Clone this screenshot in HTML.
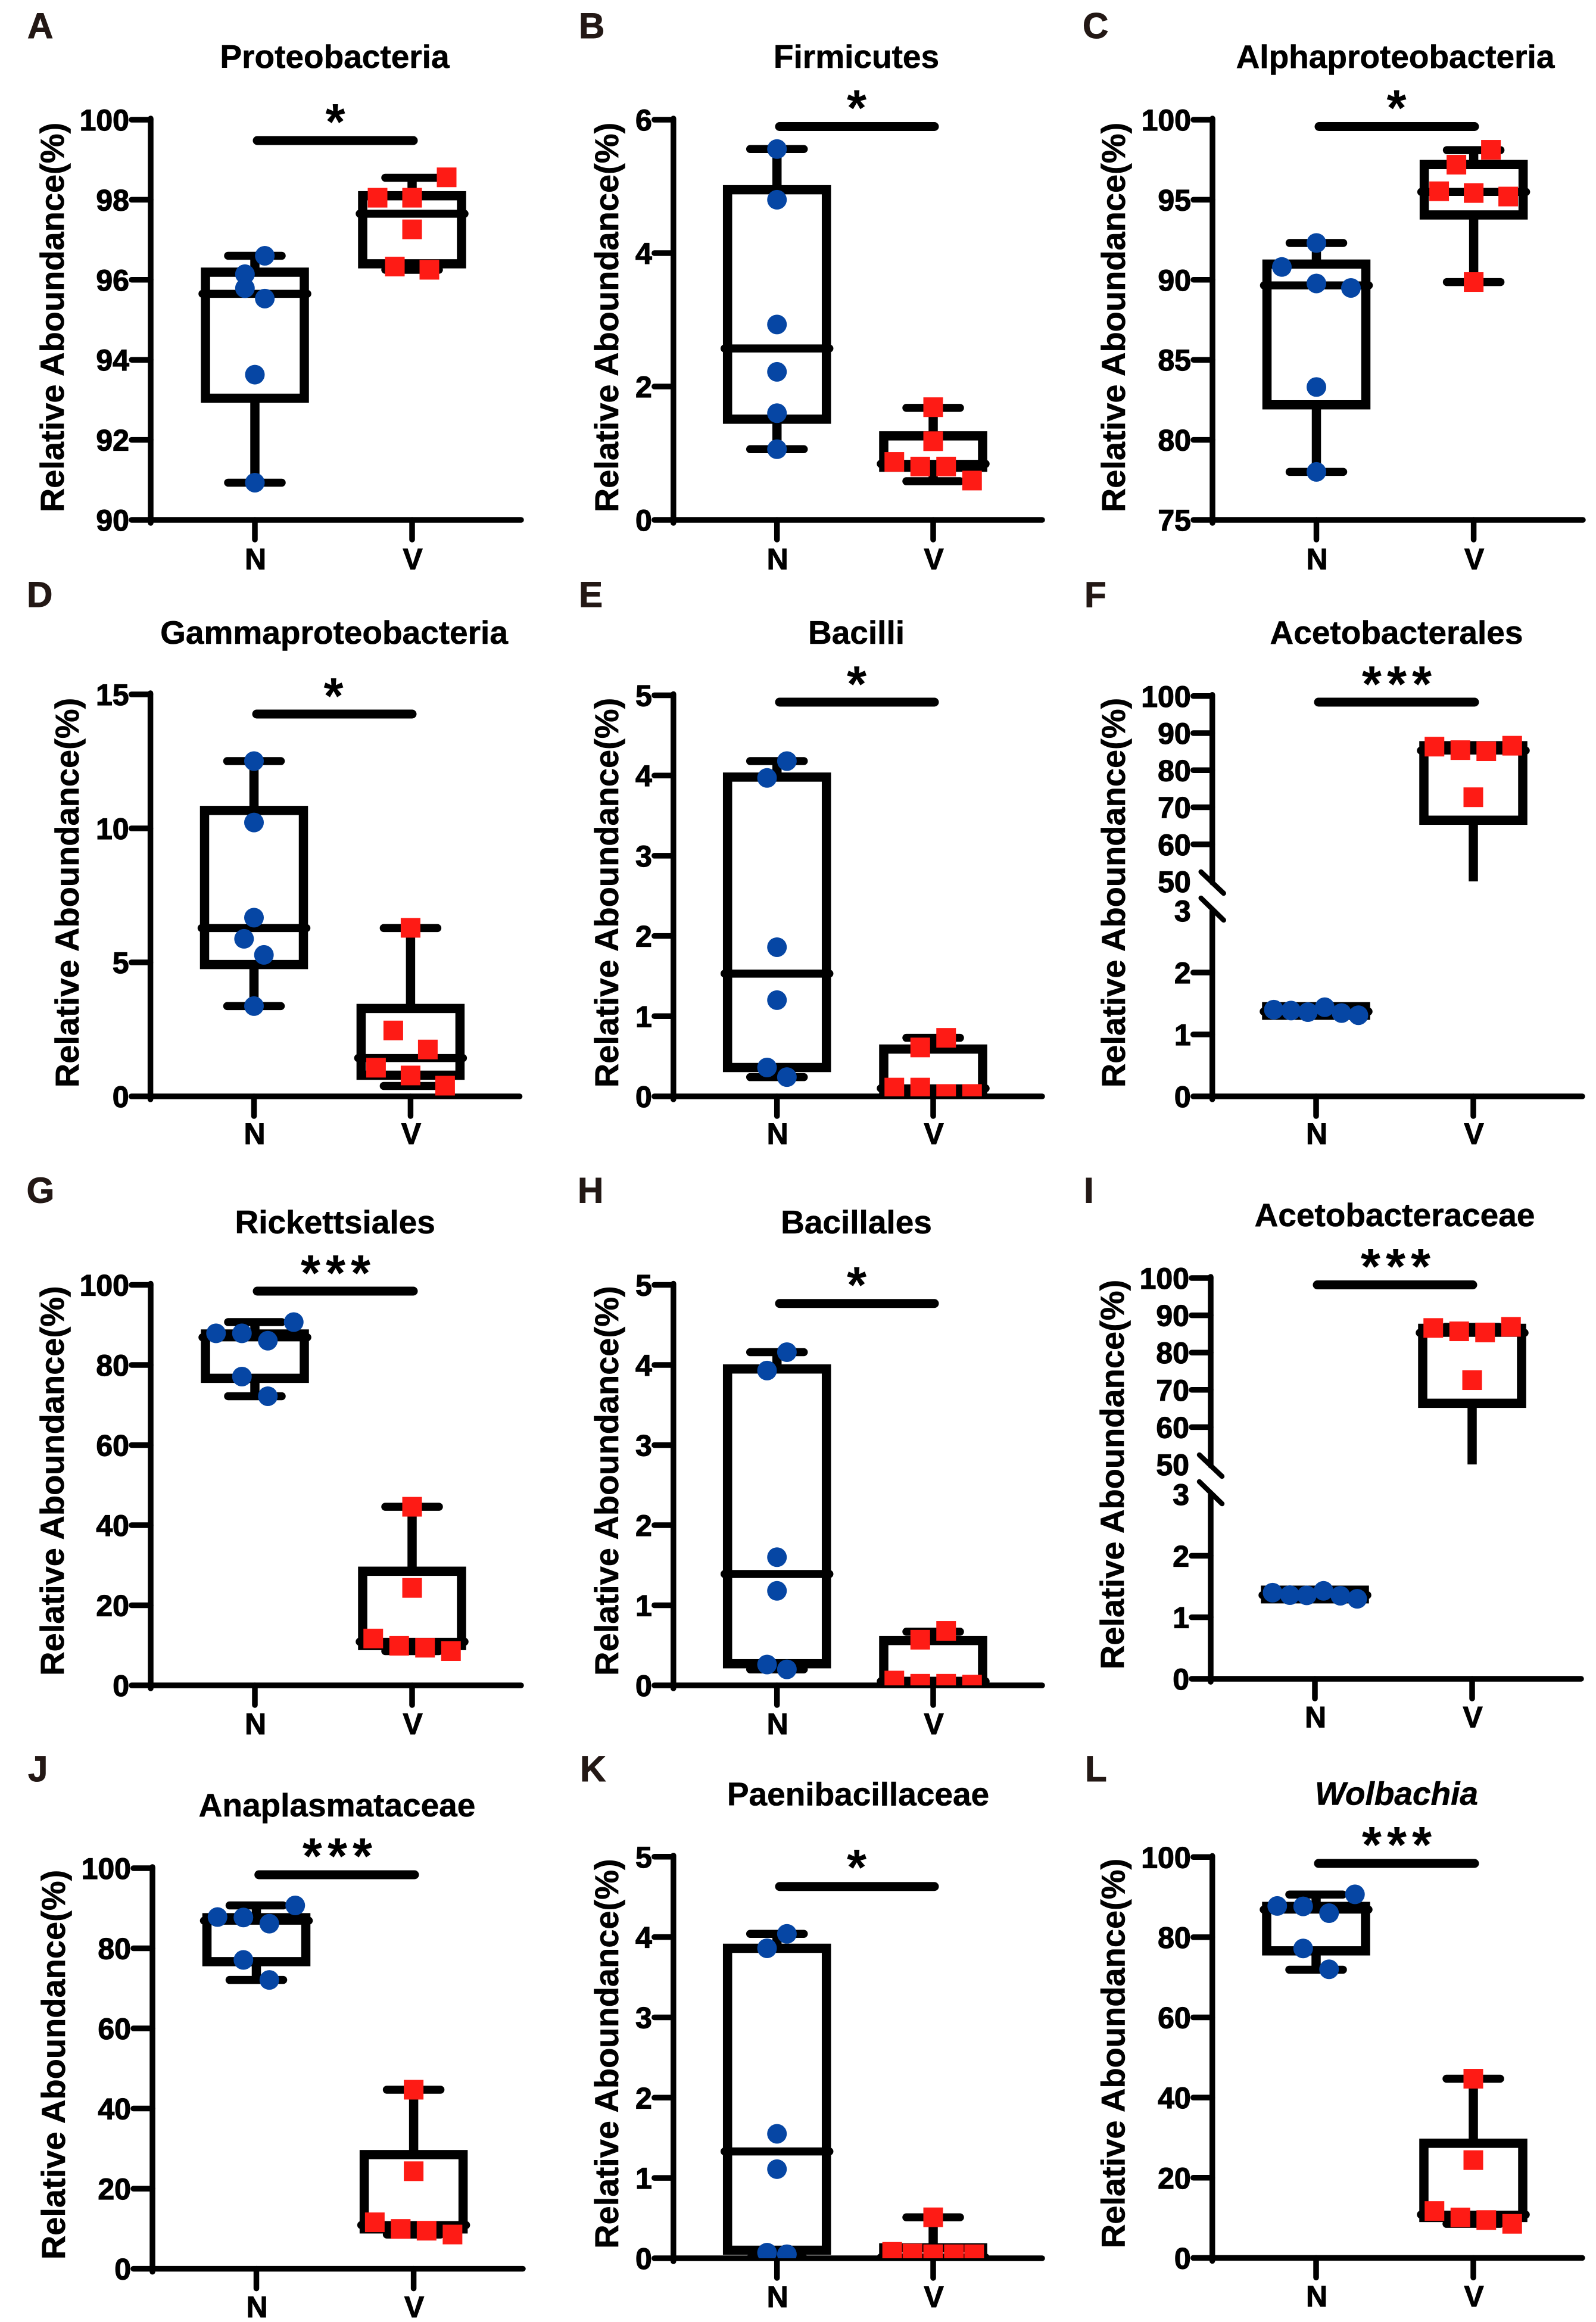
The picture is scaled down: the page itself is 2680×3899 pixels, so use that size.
<!DOCTYPE html>
<html lang="en">
<head>
<meta charset="utf-8">
<title>Relative abundance box plots</title>
<style>
html,body{margin:0;padding:0;background:#fff;}
svg{display:block;}
text{font-family:"Liberation Sans",Arial,sans-serif;font-weight:bold;fill:#000;}
.letter{font-size:60px;fill:#231815;stroke:#231815;stroke-width:1px;}
.title{font-size:55px;text-anchor:middle;stroke:#000;stroke-width:.6px;}
.ylab{font-size:56px;text-anchor:middle;stroke:#000;stroke-width:.6px;}
.star{font-size:85px;text-anchor:middle;transform:translateY(-5px);}
.stars{font-size:85px;text-anchor:middle;letter-spacing:9px;transform:translateY(-5px);}
.sig{stroke:#000;stroke-width:15;stroke-linecap:round;}
.tick-label{font-size:50px;text-anchor:end;stroke:#000;stroke-width:1.2px;}
.cat-label{font-size:50px;text-anchor:middle;stroke:#000;stroke-width:1px;}
</style>
</head>
<body>
<svg id="figure" xmlns="http://www.w3.org/2000/svg" width="2680" height="3899" viewBox="0 0 2680 3899">
<rect x="0" y="0" width="2680" height="3899" fill="#fff"/>
<defs id="clips"></defs>

<g>
<text class="letter" x="46" y="64">A</text>
<text class="title" x="562" y="114">Proteobacteria</text>
<text class="ylab" transform="translate(107,533) rotate(-90)">Relative Aboundance(%)</text>
<line class="sig" x1="432" x2="694" y1="236" y2="236"/>
<text class="star" x="563" y="239">*</text>
<g id="plot-a"></g>
</g>

<g>
<text class="letter" x="972" y="64">B</text>
<text class="title" x="1438" y="114">Firmicutes</text>
<text class="ylab" transform="translate(1038,533) rotate(-90)">Relative Aboundance(%)</text>
<line class="sig" x1="1309" x2="1569" y1="212.5" y2="212.5"/>
<text class="star" x="1438.5" y="215.5">*</text>
<g id="plot-b"></g>
</g>

<g>
<text class="letter" x="1818" y="64">C</text>
<text class="title" x="2343" y="114">Alphaproteobacteria</text>
<text class="ylab" transform="translate(1889,533) rotate(-90)">Relative Aboundance(%)</text>
<line class="sig" x1="2215" x2="2476" y1="212.5" y2="212.5"/>
<text class="star" x="2345" y="215.5">*</text>
<g id="plot-c"></g>
</g>

<g>
<text class="letter" x="45" y="1019">D</text>
<text class="title" x="561" y="1081">Gammaproteobacteria</text>
<text class="ylab" transform="translate(132,1499) rotate(-90)">Relative Aboundance(%)</text>
<line class="sig" x1="431" x2="692" y1="1199" y2="1199"/>
<text class="star" x="560" y="1203">*</text>
<g id="plot-d"></g>
</g>

<g>
<text class="letter" x="972" y="1019">E</text>
<text class="title" x="1438" y="1081">Bacilli</text>
<text class="ylab" transform="translate(1038,1499) rotate(-90)">Relative Aboundance(%)</text>
<line class="sig" x1="1309" x2="1569" y1="1179" y2="1179"/>
<text class="star" x="1438.5" y="1183">*</text>
<g id="plot-e"></g>
</g>

<g>
<text class="letter" x="1821" y="1019">F</text>
<text class="title" x="2345" y="1081">Acetobacterales</text>
<text class="ylab" transform="translate(1889,1499) rotate(-90)">Relative Aboundance(%)</text>
<line class="sig" x1="2214" x2="2476" y1="1179" y2="1179"/>
<text class="stars" x="2350" y="1183">***</text>
<g id="plot-f"></g>
</g>

<g>
<text class="letter" x="44.6" y="2019.4">G</text>
<text class="title" x="562.7" y="2071">Rickettsiales</text>
<text class="ylab" transform="translate(107,2486.6) rotate(-90)">Relative Aboundance(%)</text>
<line class="sig" x1="432" x2="694" y1="2168" y2="2168"/>
<text class="stars" x="568" y="2172">***</text>
<g id="plot-g"></g>
</g>

<g>
<text class="letter" x="970" y="2019.4">H</text>
<text class="title" x="1438" y="2071">Bacillales</text>
<text class="ylab" transform="translate(1038,2486.6) rotate(-90)">Relative Aboundance(%)</text>
<line class="sig" x1="1309" x2="1569" y1="2188.75" y2="2188.75"/>
<text class="star" x="1438.5" y="2192">*</text>
<g id="plot-h"></g>
</g>

<g>
<text class="letter" x="1820" y="2019.4">I</text>
<text class="title" x="2342" y="2059">Acetobacteraceae</text>
<text class="ylab" transform="translate(1887,2476) rotate(-90)">Relative Aboundance(%)</text>
<line class="sig" x1="2212" x2="2473" y1="2157.5" y2="2157.5"/>
<text class="stars" x="2348" y="2161">***</text>
<g id="plot-i"></g>
</g>

<g>
<text class="letter" x="47" y="2991">J</text>
<text class="title" x="566" y="3050">Anaplasmataceae</text>
<text class="ylab" transform="translate(109,3467) rotate(-90)">Relative Aboundance(%)</text>
<line class="sig" x1="434.7" x2="696" y1="3148" y2="3148"/>
<text class="stars" x="571" y="3151">***</text>
<g id="plot-j"></g>
</g>

<g>
<text class="letter" x="974" y="2991">K</text>
<text class="title" x="1441" y="3031.5">Paenibacillaceae</text>
<text class="ylab" transform="translate(1038,3448.6) rotate(-90)">Relative Aboundance(%)</text>
<line class="sig" x1="1309" x2="1569" y1="3167.75" y2="3167.75"/>
<text class="star" x="1438.5" y="3170">*</text>
<g id="plot-k"></g>
</g>

<g>
<text class="letter" x="1822" y="2991">L</text>
<text class="title" x="2345" y="3030.5" font-style="italic">Wolbachia</text>
<text class="ylab" transform="translate(1888.7,3448) rotate(-90)">Relative Aboundance(%)</text>
<line class="sig" x1="2214" x2="2476" y1="3129" y2="3129"/>
<text class="stars" x="2350" y="3132">***</text>
<g id="plot-l"></g>
</g>
</svg>

<script>
const categories = ['N', 'V'];

// Box statistics are [low whisker, Q1, median, Q3, high whisker].
// Swarm arrays hold each point's swarm column, paired with the values.
const ticksA = [90, 92, 94, 96, 98, 100];
const valuesAN = [96.6, 96.14, 95.79, 95.53, 93.63, 90.93];
const swarmAN = [1.15, -1.15, -1.15, 1.15, 0, 0];
const boxAN = [90.93, 93.04, 95.65, 96.19, 96.6];
const valuesAV = [98.05, 98.05, 98.56, 97.26, 96.33, 96.25];
const swarmAV = [-4, 0, 4, 0, -2, 2];
const boxAV = [96.25, 96.4, 97.65, 98.1, 98.55];

const ticksB = [0, 2, 4, 6];
const valuesBN = [5.56, 4.8, 2.93, 2.22, 1.6, 1.06];
const swarmBN = [0, 0, 0, 0, 0, 0];
const boxBN = [1.06, 1.51, 2.57, 4.95, 5.56];
const valuesBV = [1.69, 1.18, 0.87, 0.8, 0.8, 0.59];
const swarmBV = [0, 0, -4.5, -1.5, 1.5, 4.5];
const boxBV = [0.58, 0.79, 0.84, 1.26, 1.68];

const ticksC = [75, 80, 85, 90, 95, 100];
const valuesCN = [92.3, 90.8, 89.77, 89.49, 83.3, 78];
const swarmCN = [0, -4, 0, 4, 0, 0];
const boxCN = [78, 82.19, 89.65, 90.98, 92.3];
const valuesCV = [97.19, 98.12, 95.53, 95.42, 95.2, 89.86];
const swarmCV = [-2, 2, -4, 0, 4, 0];
const boxCV = [89.86, 94.05, 95.49, 97.2, 98.1];

const ticksD = [0, 5, 10, 15];
const valuesDN = [12.51, 10.22, 6.67, 5.88, 5.28, 3.37];
const swarmDN = [0, 0, 0, -1.15, 1.15, 0];
const boxDN = [3.37, 4.92, 6.28, 10.67, 12.51];
const valuesDV = [6.29, 2.46, 1.75, 1.07, 0.78, 0.4];
const swarmDV = [0, -2, 2, -4, 0, 4];
const boxDV = [0.39, 0.79, 1.43, 3.28, 6.28];

const ticksE = [0, 1, 2, 3, 4, 5];
const valuesEN = [4.18, 3.97, 1.86, 1.2, 0.36, 0.24];
const swarmEN = [1.15, -1.15, 0, 0, -1.15, 1.15];
const boxEN = [0.24, 0.36, 1.53, 3.98, 4.18];
const valuesEV = [0.73, 0.61, 0.11, 0.11, 0.03, 0.03];
const swarmEV = [1.5, -1.5, -4.5, -1.5, 1.5, 4.5];
const boxEV = [0.06, 0.09, 0.1, 0.59, 0.73];

const ticksF = [0, 1, 2, 3, 50, 60, 70, 80, 90, 100];
const valuesFN = [1.4, 1.386, 1.36, 1.44, 1.345, 1.31];
const swarmFN = [-4.9, -2.9, -0.95, 1, 2.95, 4.9];
const boxFN = [1.31, 1.31, 1.37, 1.447, 1.44];
const valuesFV = [86.35, 85.4, 85.1, 86.6, 72.7];
const swarmFV = [-4.5, -1.5, 1.5, 4.5, 0];
const boxFV = [50, 66.5, 85.3, 86.6, 86.6];

const ticksG = [0, 20, 40, 60, 80, 100];
const valuesGN = [87.9, 87.9, 86.06, 90.7, 77.1, 72.2];
const swarmGN = [-4.5, -1.5, 1.5, 4.5, -1.5, 1.5];
const boxGN = [72.2, 76.67, 86.9, 87.73, 90.7];
const valuesGV = [44.6, 24.35, 11.7, 9.9, 9.4, 8.55];
const swarmGV = [0, 0, -4.5, -1.5, 1.5, 4.5];
const boxGV = [8.55, 9.95, 10.9, 28.5, 44.6];

const ticksH = [0, 1, 2, 3, 4, 5];
const valuesHN = [4.16, 3.93, 1.6, 1.18, 0.26, 0.2];
const swarmHN = [1.15, -1.15, 0, 0, -1.15, 1.15];
const boxHN = [0.2, 0.27, 1.39, 3.95, 4.16];
const valuesHV = [0.68, 0.57, 0.06, 0.02, 0.02, 0.01];
const swarmHV = [1.5, -1.5, -4.5, -1.5, 1.5, 4.5];
const boxHV = [0.03, 0.05, 0.05, 0.56, 0.67];

const ticksI = [0, 1, 2, 3, 50, 60, 70, 80, 90, 100];
const valuesIN = [1.4, 1.36, 1.356, 1.43, 1.35, 1.3];
const swarmIN = [-4.9, -2.9, -0.95, 1, 2.95, 4.9];
const boxIN = [1.3, 1.3, 1.36, 1.44, 1.43];
const valuesIV = [86.6, 85.7, 85.4, 86.9, 72.6];
const swarmIV = [-4.5, -1.5, 1.5, 4.5, 0];
const boxIV = [50, 66.4, 85.3, 86.5, 86.9];

const ticksJ = [0, 20, 40, 60, 80, 100];
const valuesJN = [87.8, 87.7, 86.15, 90.7, 77.1, 72.1];
const swarmJN = [-4.5, -1.5, 1.5, 4.5, -1.5, 1.5];
const boxJN = [72.1, 76.67, 86.9, 87.64, 90.7];
const valuesJV = [44.7, 24.35, 11.6, 9.95, 9.5, 8.55];
const swarmJV = [0, 0, -4.5, -1.5, 1.5, 4.5];
const boxJV = [8.55, 9.95, 10.9, 28.5, 44.7];

const ticksK = [0, 1, 2, 3, 4, 5];
const valuesKN = [4.04, 3.86, 1.55, 1.11, 0.07, 0.05];
const swarmKN = [1.15, -1.15, 0, 0, -1.15, 1.15];
const boxKN = [0, 0.1, 1.33, 3.86, 4.04];
const valuesKV = [0.51, 0.08, 0.06, 0.05, 0.05, 0.05];
const swarmKV = [0, -4.75, -2.4, 0, 2.4, 4.75];
const boxKV = [0, 0, 0.01, 0.13, 0.51];

const ticksL = [0, 20, 40, 60, 80, 100];
const valuesLN = [87.8, 87.7, 86, 90.7, 77.2, 72];
const swarmLN = [-4.5, -1.5, 1.5, 4.5, -1.5, 1.5];
const boxLN = [71.9, 76.6, 86.9, 87.68, 90.65];
const valuesLV = [44.7, 24.4, 11.7, 10.1, 9.45, 8.5];
const swarmLV = [0, 0, -4.5, -1.5, 1.5, 4.5];
const boxLV = [8.5, 10.1, 10.8, 28.6, 44.7];

// Layout (pixels) is kept apart from the data above.
const SWARM_UNIT = 14.5;
const panels = [
  {id:'a', ticks:ticksA, N:[valuesAN,swarmAN,boxAN], V:[valuesAV,swarmAV,boxAV], axisX:253, xN:428, xV:692, xEnd:875, labelY:956, segs:[{d:[90,100],r:[873,201]}]},
  {id:'b', ticks:ticksB, N:[valuesBN,swarmBN,boxBN], V:[valuesBV,swarmBV,boxBV], axisX:1130.8, xN:1304.7, xV:1567, xEnd:1750, labelY:956, segs:[{d:[0,6],r:[873,201]}]},
  {id:'c', ticks:ticksC, N:[valuesCN,swarmCN,boxCN], V:[valuesCV,swarmCV,boxCV], axisX:2036, xN:2210.5, xV:2474.6, xEnd:2658, labelY:956, segs:[{d:[75,100],r:[873,201]}]},
  {id:'d', ticks:ticksD, N:[valuesDN,swarmDN,boxDN], V:[valuesDV,swarmDV,boxDV], axisX:252.6, xN:426.5, xV:689.4, xEnd:872.6, labelY:1921, segs:[{d:[0,15],r:[1841,1166]}]},
  {id:'e', ticks:ticksE, N:[valuesEN,swarmEN,boxEN], V:[valuesEV,swarmEV,boxEV], axisX:1130.8, xN:1304.7, xV:1567, xEnd:1750, labelY:1921, segs:[{d:[0,5],r:[1841,1167.5]}]},
  {id:'f', ticks:ticksF, N:[valuesFN,swarmFN,boxFN], V:[valuesFV,swarmFV,boxFV], axisX:2035.7, xN:2210, xV:2474, xEnd:2657, labelY:1921, segs:[{d:[0,3],r:[1841,1529]},{d:[50,100],r:[1480,1168.75]}]},
  {id:'g', ticks:ticksG, N:[valuesGN,swarmGN,boxGN], V:[valuesGV,swarmGV,boxGV], axisX:253, xN:428, xV:692, xEnd:875, labelY:2912, segs:[{d:[0,100],r:[2830,2157.5]}]},
  {id:'h', ticks:ticksH, N:[valuesHN,swarmHN,boxHN], V:[valuesHV,swarmHV,boxHV], axisX:1130.8, xN:1304.7, xV:1567, xEnd:1750, labelY:2912, segs:[{d:[0,5],r:[2830,2157.5]}]},
  {id:'i', ticks:ticksI, N:[valuesIN,swarmIN,boxIN], V:[valuesIV,swarmIV,boxIV], axisX:2033, xN:2208, xV:2472, xEnd:2655, labelY:2900.6, segs:[{d:[0,3],r:[2819,2509]},{d:[50,100],r:[2459,2146]}]},
  {id:'j', ticks:ticksJ, N:[valuesJN,swarmJN,boxJN], V:[valuesJV,swarmJV,boxJV], axisX:256, xN:430.5, xV:694.6, xEnd:878, labelY:3891, segs:[{d:[0,100],r:[3809.6,3137]}]},
  {id:'k', ticks:ticksK, N:[valuesKN,swarmKN,boxKN], V:[valuesKV,swarmKV,boxKV], axisX:1130.8, xN:1304.7, xV:1567, xEnd:1750, labelY:3874, segs:[{d:[0,5],r:[3792,3117.75]}]},
  {id:'l', ticks:ticksL, N:[valuesLN,swarmLN,boxLN], V:[valuesLV,swarmLV,boxLV], axisX:2035.7, xN:2210, xV:2474, xEnd:2657, labelY:3873, segs:[{d:[0,100],r:[3791.4,3118.3]}]}
];

const SVG_NS = 'http://www.w3.org/2000/svg';
const BLUE = '#0646A4';
const RED = '#FE1B15';
const AXIS_W = 9.5;

function make(parent, tag, attrs) {
  const node = document.createElementNS(SVG_NS, tag);
  for (const key in attrs) node.setAttribute(key, attrs[key]);
  parent.appendChild(node);
  return node;
}

function axisFn(p) {
  return function (v) {
    let seg = p.segs[0];
    for (const s of p.segs) { if (v >= s.d[0]) seg = s; }
    const t = (v - seg.d[0]) / (seg.d[1] - seg.d[0]);
    return seg.r[0] + t * (seg.r[1] - seg.r[0]);
  };
}

function drawAxes(g, p, y) {
  const base = p.segs[0].r[0];
  const broken = p.segs.length > 1;
  p.segs.forEach(function (seg) {
    const axisLine = make(g, 'line', {x1:p.axisX, x2:p.axisX, y1:seg.r[0] + (seg === p.segs[0] ? 5 : 2), y2:seg.r[1] - (broken && seg === p.segs[0] ? 0 : 2), stroke:'#000', 'stroke-width':AXIS_W, 'stroke-linecap':'round'});
    
    
  });
  const xLine = make(g, 'line', {x1:p.axisX, x2:p.xEnd, y1:base, y2:base, stroke:'#000', 'stroke-width':AXIS_W, 'stroke-linecap':'round'});
  
  

  p.ticks.forEach(function (t) {
    const py = y(t);
    const isBreakEdge = broken && (t === p.segs[0].d[1] || t === p.segs[1].d[0]);
    if (!isBreakEdge) {
      const tick = make(g, 'line', {x1:p.axisX - 32, x2:p.axisX, y1:py, y2:py, stroke:'#000', 'stroke-width':AXIS_W, 'stroke-linecap':'round'});
      
      
    }
    const label = make(g, 'text', {class:'tick-label', x:p.axisX - 36, y:py + 18});
    
    
    label.textContent = String(t);
  });

  if (broken) {
    const yHigh = p.segs[1].r[0];
    const yLow = p.segs[0].r[1];
    const slashA = make(g, 'line', {x1:p.axisX - 19, x2:p.axisX + 19, y1:yHigh - 16, y2:yHigh + 20, stroke:'#000', 'stroke-width':8.5, 'stroke-linecap':'round'});
    
    
    const slashB = make(g, 'line', {x1:p.axisX - 19, x2:p.axisX + 19, y1:yLow - 21, y2:yLow + 16, stroke:'#000', 'stroke-width':8.5, 'stroke-linecap':'round'});
    
    
  }

  [p.xN, p.xV].forEach(function (cx, i) {
    const xt = make(g, 'line', {x1:cx, x2:cx, y1:base, y2:base + 33, stroke:'#000', 'stroke-width':AXIS_W, 'stroke-linecap':'round'});
    
    
    const lab = make(g, 'text', {class:'cat-label', x:cx + 1, y:p.labelY});
    
    
    lab.textContent = categories[i];
  });
}

function drawSeries(g, p, y, cat, cx, series) {
  const values = series[0], swarm = series[1], box = series[2];
  const lo = box[0], q1 = box[1], med = box[2], q3 = box[3], hi = box[4];
  const hw = 83, capHw = 45, medHw = 88;
  const broken = p.segs.length > 1;

  const stemHi = make(g, 'line', {x1:cx, x2:cx, y1:y(q3), y2:y(hi), stroke:'#000', 'stroke-width':15.5});
  
  
  const stemLo = make(g, 'line', {x1:cx, x2:cx, y1:y(q1), y2:y(lo), stroke:'#000', 'stroke-width':15.5});
  
  

  const capHi = make(g, 'line', {x1:cx - capHw, x2:cx + capHw, y1:y(hi), y2:y(hi), stroke:'#000', 'stroke-width':13.5, 'stroke-linecap':'round'});
  
  
  if (!(broken && lo === p.segs[1].d[0])) {
    const capLo = make(g, 'line', {x1:cx - capHw, x2:cx + capHw, y1:y(lo), y2:y(lo), stroke:'#000', 'stroke-width':13.5, 'stroke-linecap':'round'});
    
    
  }

  const rect = make(g, 'rect', {x:cx - hw, y:y(q3), width:hw * 2, height:Math.max(0, y(q1) - y(q3)), fill:'none', stroke:'#000', 'stroke-width':15.5});
  
  

  const medLine = make(g, 'line', {x1:cx - medHw, x2:cx + medHw, y1:y(med), y2:y(med), stroke:'#000', 'stroke-width':13.5, 'stroke-linecap':'round'});
  
  

  values.forEach(function (v, i) {
    const px = cx + swarm[i] * SWARM_UNIT;
    const py = y(v);
    if (cat === 'N') {
      const dot = make(g, 'circle', {cx:px, cy:py, r:16.5, fill:BLUE});
      
      
    } else {
      const sq = make(g, 'rect', {x:px - 16.5, y:py - 16.5, width:33, height:33, fill:RED});
      
      
    }
  });
}

const clipDefs = document.getElementById('clips');
panels.forEach(function (p) {
  const g = document.getElementById('plot-' + p.id);
  const y = axisFn(p);
  const base = p.segs[0].r[0];

  const clip = make(clipDefs, 'clipPath', {id:'clip-' + p.id});
  make(clip, 'rect', {x:p.axisX, y:base - 800, width:p.xEnd - p.axisX + 20, height:800});

  drawAxes(g, p, y);

  const marks = make(g, 'g', {'clip-path':'url(#clip-' + p.id + ')'});
  
  
  drawSeries(marks, p, y, 'N', p.xN, p.N);
  drawSeries(marks, p, y, 'V', p.xV, p.V);
});
</script>
</body>
</html>
